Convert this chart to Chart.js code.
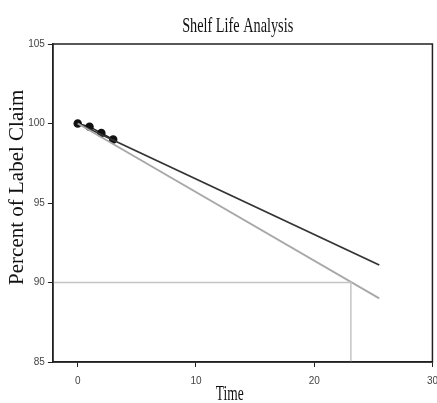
<!DOCTYPE html>
<html lang="en">
<head>
  <meta charset="UTF-8">
  <title>Shelf Life Analysis</title>
  <script src="https://cdn.jsdelivr.net/npm/chart.js"></script>
  <style>
    html, body { margin: 0; padding: 0; background: #fff; overflow: hidden; }
    .chart-container { width: 446px; height: 403px; }
  </style>
</head>
<body>
  <div class="chart-container">
    <canvas id="shelfChart"></canvas>
  </div>

  <script>
    // Measured stability points
    const times = [0, 1, 2, 3];
    const percents = [100.0, 99.8, 99.4, 99.0];

    // Regression line and lower confidence bound
    const fitTimes = [0, 25.5];
    const fitValues = [100.0, 91.1];
    const lowerTimes = [0, 25.5];
    const lowerValues = [100.0, 89.0];

    // Specification limit and shelf-life drop line
    const limitTimes = [-2.1, 23.1, 23.1];
    const limitValues = [90, 90, 85];

    const xTicks = [0, 10, 20, 30];
    const yTicks = [85, 90, 95, 100, 105];

    const titleText = 'Shelf Life Analysis';
    const xTitleText = 'Time';
    // leading spaces nudge the rotated title up a little, like the source
    const yTitleText = '      Percent of Label Claim';

    const toPoints = (xs, ys) => xs.map((x, i) => ({ x: x, y: ys[i] }));

    // The source picture is squeezed sideways, so the horizontal texts are too
    function squeezedText(ctx, text, x, y, size, squeeze) {
      ctx.save();
      ctx.font = size + 'px "Liberation Serif"';
      ctx.fillStyle = '#111';
      ctx.textAlign = 'center';
      ctx.textBaseline = 'middle';
      ctx.translate(x, y);
      ctx.scale(squeeze, 1);
      ctx.fillText(text, 0, 0);
      ctx.restore();
    }

    // Closed frame around the plot area plus the titles
    const framePlugin = {
      id: 'frame',
      afterDraw(chart) {
        const { ctx, chartArea } = chart;
        ctx.save();
        ctx.strokeStyle = '#222';
        ctx.lineWidth = 1.5;
        ctx.strokeRect(chartArea.left, chartArea.top, chartArea.right - chartArea.left, chartArea.bottom - chartArea.top);
        ctx.restore();
        const mid = (chartArea.left + chartArea.right) / 2;
        squeezedText(ctx, titleText, mid - 5, chartArea.top - 18, 21, 0.68);
        squeezedText(ctx, xTitleText, mid - 13, chartArea.bottom + 32, 21, 0.64);
      }
    };

    const tickFont = { family: 'Liberation Sans', size: 10 };

    new Chart(document.getElementById('shelfChart'), {
      type: 'scatter',
      data: {
        datasets: [{
          label: 'Limit',
          data: toPoints(limitTimes, limitValues),
          showLine: true,
          borderColor: '#c4c4c4',
          borderWidth: 1.5,
          pointRadius: 0,
          fill: false
        }, {
          label: 'Lower bound',
          data: toPoints(lowerTimes, lowerValues),
          showLine: true,
          borderColor: '#a8a8a8',
          borderWidth: 1.8,
          pointRadius: 0,
          fill: false
        }, {
          label: 'Fit',
          data: toPoints(fitTimes, fitValues),
          showLine: true,
          borderColor: '#333',
          borderWidth: 1.8,
          pointRadius: 0,
          fill: false
        }, {
          label: 'Data',
          data: toPoints(times, percents),
          showLine: true,
          borderColor: '#222',
          borderWidth: 1.5,
          backgroundColor: '#111',
          pointBorderColor: '#111',
          pointRadius: 3.5
        }]
      },
      options: {
        responsive: true,
        maintainAspectRatio: false,
        animation: false,
        layout: { padding: { left: 4, right: 0, top: 44, bottom: 8 } },
        plugins: {
          legend: { display: false },
          tooltip: { enabled: false },
          title: { display: false }
        },
        scales: {
          x: {
            type: 'linear',
            min: -2.1,
            max: 30,
            afterBuildTicks: (axis) => { axis.ticks = xTicks.map((v) => ({ value: v })); },
            ticks: { color: '#444', font: tickFont, padding: 8, maxRotation: 0 },
            grid: { drawOnChartArea: false, drawTicks: true, tickLength: 5, color: '#222' },
            border: { color: '#222', width: 1.5 }
          },
          y: {
            min: 85,
            max: 105,
            afterBuildTicks: (axis) => { axis.ticks = yTicks.map((v) => ({ value: v })); },
            ticks: { color: '#444', font: tickFont, padding: 3 },
            grid: { drawOnChartArea: false, drawTicks: true, tickLength: 5, color: '#222' },
            border: { color: '#222', width: 1.5 },
            title: {
              display: true,
              text: yTitleText,
              color: '#111',
              font: { family: 'Liberation Serif', size: 21 },
              padding: { top: 1, bottom: -5 }
            }
          }
        }
      },
      plugins: [framePlugin]
    });
  </script>
</body>
</html>
